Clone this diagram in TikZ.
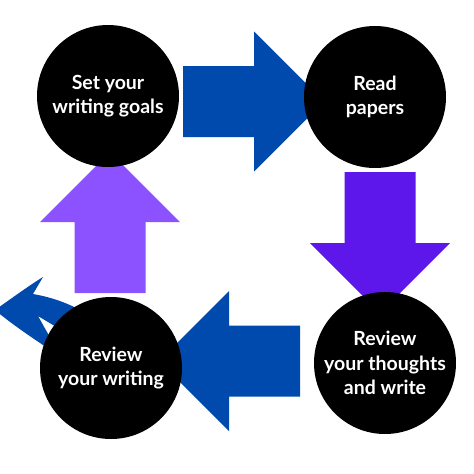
\documentclass[tikz,border=0pt]{standalone}
\usepackage{fontspec}
\setmainfont{Lato}
\usepackage{tikz}
\usepackage{xcolor}

\definecolor{arrowblue}{HTML}{004AAD}
\definecolor{deeppurple}{HTML}{5E17EB}
\definecolor{lightpurple}{HTML}{8C52FF}

% block arrow pointing right, shaft starts at the origin
\newcommand{\blockarrow}[4]{%
  \fill[#1,shift={(#2,#3)},rotate=#4] (0,-35.5)--(71,-35.5)--(71,-70)--(141,0)--(71,70)--(71,35.5)--(0,35.5)--cycle;}

\begin{document}
\begin{tikzpicture}[x=1pt,y=-1pt,
    step circle/.style={circle,fill=black,minimum size=142pt,inner sep=0pt,
      text=white,align=center,font=\bfseries\fontsize{19.5}{24.5}\selectfont}]
    \useasboundingbox (0,0) rectangle (474,474);
    \fill[white] (0,0) rectangle (474,474);

    \blockarrow{arrowblue}{183}{101.5}{0}
    \blockarrow{deeppurple}{380}{172}{-90}
    \blockarrow{arrowblue}{300}{361}{180}
    \blockarrow{lightpurple}{110}{293}{90}

    % curved arrow behind the last circle
    \fill[arrowblue] (-5,310) .. controls (12,298) and (30,285) .. (43,277)
      -- (33,294) .. controls (50,297) and (66,302) .. (86,313)
      -- (82,340) -- (58,328) -- (38,316) -- (61,357) -- (43,345)
      .. controls (25,333) and (8,321) .. (-5,310) -- cycle;

    \node[step circle] (goals) at (108,96) {Set your\\writing goals};
    \node[step circle] (read) at (375,97) {Read\\papers};
    \node[step circle] (thoughts) at (385,363) {Review\\your thoughts\\and write};
    \node[step circle] (writing) at (111,368) {Review\\your writing};

\end{tikzpicture}
\end{document}
